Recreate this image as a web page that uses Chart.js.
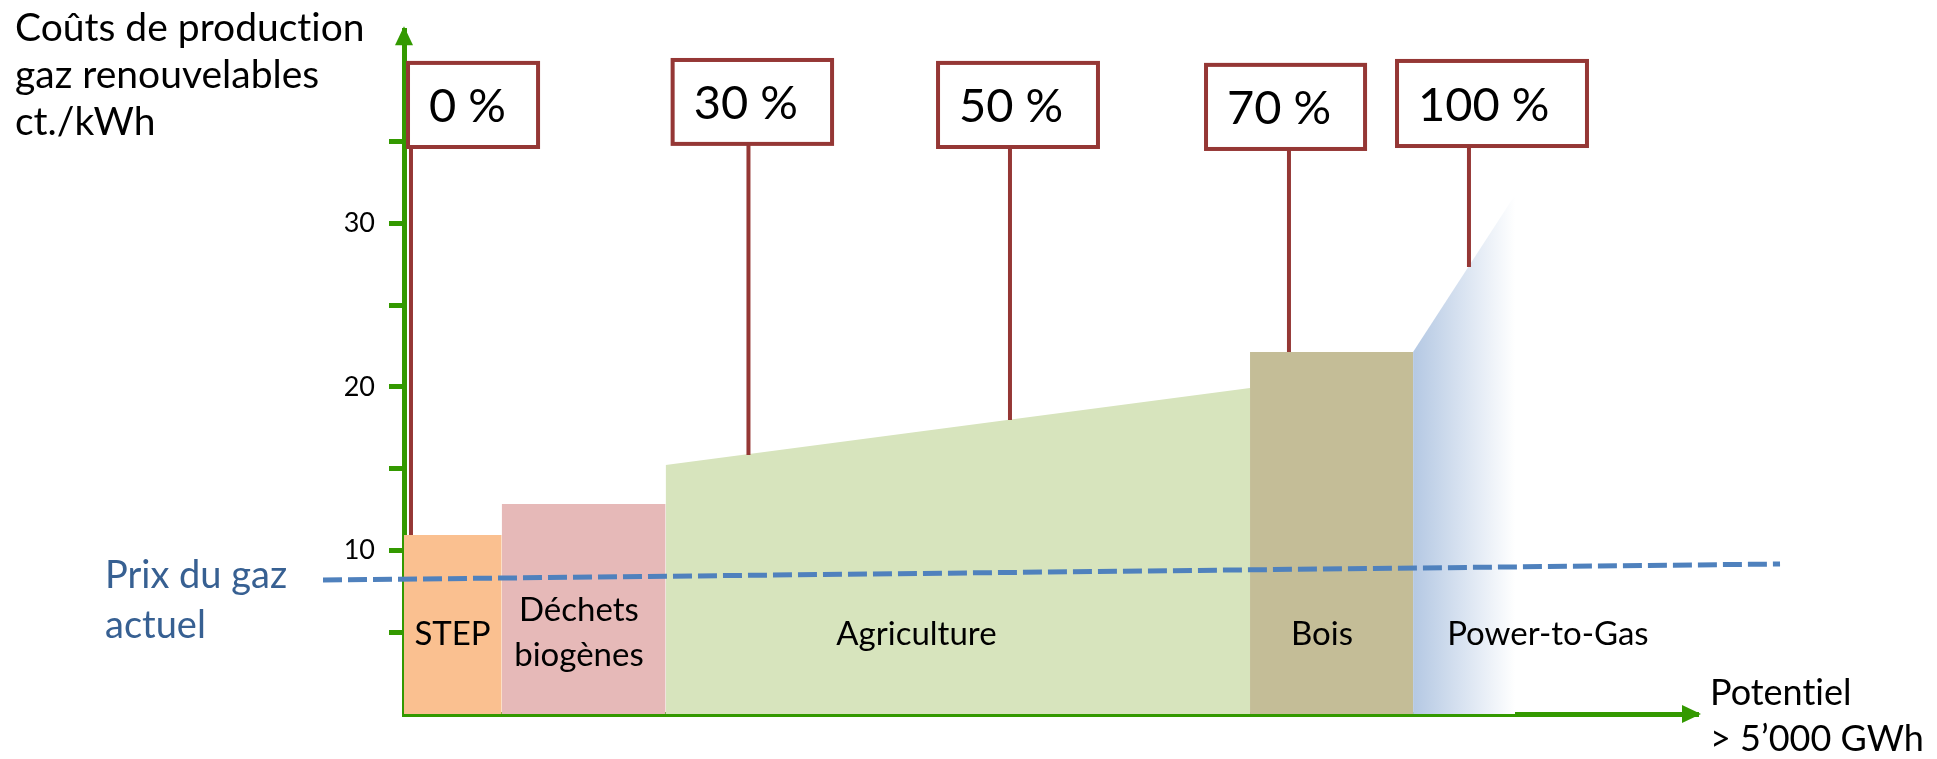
<!DOCTYPE html>
<html><head><meta charset="utf-8">
<script src="https://cdn.jsdelivr.net/npm/chart.js@4.4.1/dist/chart.umd.min.js"></script>
<style>html,body{margin:0;padding:0;background:#fff;overflow:hidden}#wrap{width:1937px;height:759px;position:relative}</style>
</head><body><div id="wrap"><canvas id="c"></canvas></div>
<script>
// ---- data (x: share of potential along axis, arbitrary units 0..100; y: ct./kWh) ----
const categories = [['STEP'], ['Déchets', 'biogènes'], ['Agriculture'], ['Bois'], ['Power-to-Gas']];
const segStart = [0, 7.55, 20.22, 65.38, 77.98];
const segEnd = [7.55, 20.22, 65.38, 77.98, 85.86];
const costStart = [10.94, 12.84, 15.22, 22.13, 22.13];
const costEnd = [10.94, 12.84, 19.93, 22.13, 31.73];
const labelAt = [3.75, 13.52, 39.6, 70.94, 88.4];

const shareLabels = ['0 %', '30 %', '50 %', '70 %', '100 %'];
const shareX = [0.54, 26.62, 46.83, 68.39, 82.30];
const shareCost = [10.94, 15.83, 17.97, 22.13, 27.33];
const boxLeft = [0.31, 20.76, 41.27, 61.98, 76.74];
const boxRight = [10.36, 33.08, 53.63, 74.27, 91.42];
const boxTop = [39.80, 39.98, 39.80, 39.68, 39.92];
const boxBottom = [34.66, 34.85, 34.66, 34.54, 34.72];

const priceX = [-6.26, 106.34];
const priceY = [8.19, 9.17];
const priceLabel = ['Prix du gaz', 'actuel'];

const yTickLabels = [10, 20, 30];
const yTitle = ['Coûts de production', 'gaz renouvelables', 'ct./kWh'];
const xTitle = ['Potentiel', '> 5’000 GWh'];

// ---- styles ----
const GREEN = '#339900';
const RED = '#953735';
const FONT = 'Lato, "Open Sans", sans-serif';
const segColors = ['#FAC090', '#E6B9B8', '#D7E4BD', '#C4BD97', null];

const datasets = [];
for (let i = 0; i < categories.length; i++) {
  const isP2G = i === 4;
  datasets.push({
    label: categories[i].join(' '),
    data: [{x: segStart[i], y: costStart[i]}, {x: segEnd[i], y: costEnd[i]}],
    borderWidth: 0, pointRadius: 0, fill: 'origin', order: 5, tension: 0,
    backgroundColor: isP2G ? function (ctx) {
      const ch = ctx.chart; if (!ch.chartArea) return '#B9CDE5';
      const xs = ch.scales.x;
      const g = ch.ctx.createLinearGradient(xs.getPixelForValue(segStart[i]), 0, xs.getPixelForValue(segEnd[i]), 0);
      g.addColorStop(0, '#B4C8E3'); g.addColorStop(1, 'rgba(255,255,255,1)');
      return g;
    } : segColors[i]
  });
}
for (let i = 0; i < shareX.length; i++) {
  datasets.push({
    label: 'stem ' + shareLabels[i],
    data: [{x: shareX[i], y: shareCost[i]}, {x: shareX[i], y: boxBottom[i]}],
    borderColor: RED, borderWidth: 4, pointRadius: 0, fill: false, order: 3, borderCapStyle: 'butt'
  });
}
datasets.push({
  label: 'Prix du gaz actuel',
  data: [{x: priceX[0], y: priceY[0]}, {x: priceX[1], y: priceY[1]}],
  borderColor: '#4F81BD', borderWidth: 5, borderDash: [19, 6], pointRadius: 0, fill: false, order: 1, clip: false
});

const overlay = {
  id: 'overlay',
  afterDraw(chart) {
    const c = chart.ctx, xs = chart.scales.x, ys = chart.scales.y, a = chart.chartArea;
    c.save();
    if ('textRendering' in c) c.textRendering = 'optimizeSpeed';
    // arrows
    c.fillStyle = GREEN;
    c.beginPath(); c.moveTo(a.left, a.top - 4); c.lineTo(a.left - 9, a.top + 15); c.lineTo(a.left + 9, a.top + 15); c.closePath(); c.fill();
    c.beginPath(); c.moveTo(a.right + 3, a.bottom); c.lineTo(a.right - 16, a.bottom - 9); c.lineTo(a.right - 16, a.bottom + 9); c.closePath(); c.fill();
    // share boxes
    for (let i = 0; i < shareLabels.length; i++) {
      const l = xs.getPixelForValue(boxLeft[i]), r = xs.getPixelForValue(boxRight[i]);
      const t = ys.getPixelForValue(boxTop[i]), b = ys.getPixelForValue(boxBottom[i]);
      c.fillStyle = '#fff'; c.fillRect(l, t, r - l, b - t);
      c.strokeStyle = RED; c.lineWidth = 4; c.strokeRect(l, t, r - l, b - t);
      c.fillStyle = '#000'; c.font = '47px ' + FONT; c.textAlign = 'left'; c.textBaseline = 'middle';
      c.fillText(shareLabels[i], l + 21, (t + b) / 2 + 2);
    }
    // category labels
    c.fillStyle = '#000'; c.font = '33px ' + FONT; c.textAlign = 'center'; c.textBaseline = 'alphabetic';
    const base = ys.getPixelForValue(4.2);
    for (let i = 0; i < categories.length; i++) {
      const x = xs.getPixelForValue(labelAt[i]);
      const lines = categories[i];
      if (lines.length === 1) c.fillText(lines[0], x, base);
      else { c.fillText(lines[0], x, base - 24); c.fillText(lines[1], x, base + 21); }
    }
    // axis titles
    c.textAlign = 'left'; c.font = '39px ' + FONT; c.fillStyle = '#000';
    yTitle.forEach((s, k) => c.fillText(s, 15, 41 + k * 47));
    c.font = '36px ' + FONT;
    xTitle.forEach((s, k) => c.fillText(s, a.right + 12, 705 + k * 46));
    c.font = '38px ' + FONT;
    c.fillStyle = '#376092';
    priceLabel.forEach((s, k) => c.fillText(s, 105, 588 + k * 50));
    c.restore();
  }
};

function build() {
  new Chart(document.getElementById('c'), {
    type: 'line',
    data: {datasets},
    options: {
      responsive: true, maintainAspectRatio: false, animation: false,
      layout: {padding: {top: 30, right: 239, bottom: 0, left: 0}},
      plugins: {legend: {display: false}, tooltip: {enabled: false}, title: {display: false}},
      scales: {
        x: {
          type: 'linear', min: 0, max: 100, z: 1,
          grid: {display: false}, ticks: {display: false},
          border: {display: true, color: GREEN, width: 5},
          afterFit(s) { s.height = 45; }
        },
        y: {
          type: 'linear', min: 0, max: 41.8, z: 1,
          grid: {display: true, drawOnChartArea: false, drawTicks: true, tickLength: 15,
            tickWidth: 5,
            tickColor: (ctx) => (ctx.tick && ctx.tick.value > 0 && ctx.tick.value < 40 && ctx.tick.value % 5 === 0) ? GREEN : 'rgba(0,0,0,0)'},
          border: {display: true, color: GREEN, width: 5},
          ticks: {stepSize: 5, autoSkip: false, padding: 14, color: '#000', font: {family: FONT, size: 27},
            callback: (v) => yTickLabels.includes(v) ? String(v) : ''},
          afterFit(s) { s.width = 404; }
        }
      }
    },
    plugins: [overlay]
  });
}
if (document.fonts && document.fonts.load) {
  Promise.all([document.fonts.load('47px Lato'), document.fonts.load('31px Lato')]).then(build, build);
} else build();
</script></body></html>
